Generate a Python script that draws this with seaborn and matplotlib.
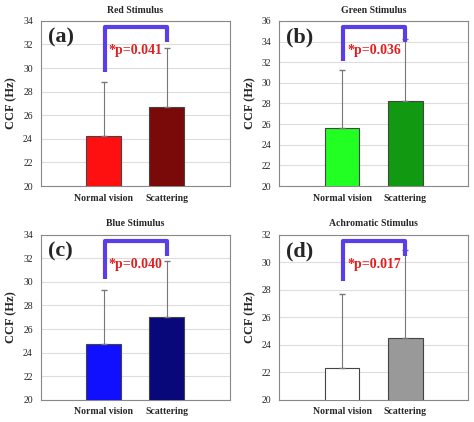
import matplotlib
matplotlib.use("Agg")
import matplotlib.pyplot as plt
import seaborn as sns
import pandas as pd

groups = ["Normal vision", "Scattering"]
titles = ["Red Stimulus", "Green Stimulus", "Blue Stimulus", "Achromatic Stimulus"]
letters = ["(a)", "(b)", "(c)", "(d)"]
means = [[24.2, 26.7], [25.6, 28.2], [24.7, 27.0], [22.3, 24.5]]
sds = [[4.6, 5.0], [5.6, 6.0], [4.6, 4.8], [5.4, 6.4]]
pvals = ["*p=0.041", "*p=0.036", "*p=0.040", "*p=0.017"]
ylims = [(20, 34), (20, 36), (20, 34), (20, 32)]
colors = [["#ff1010", "#7a0a0a"], ["#22ff22", "#119911"],
          ["#1010ff", "#08087a"], ["#ffffff", "#999999"]]

sns.set_style("white")
plt.rcParams["font.family"] = ["Liberation Serif", "DejaVu Serif"]

fig, axes = plt.subplots(2, 2, figsize=(4.74, 4.22), dpi=100)
for i, ax in enumerate(axes.flat):
    df = pd.DataFrame({"group": groups, "ccf": means[i]})
    sns.barplot(data=df, x="group", y="ccf", hue="group", palette=colors[i],
                width=0.55, saturation=1, edgecolor="#444444", linewidth=0.8,
                ax=ax, legend=False, zorder=3)
    ax.errorbar([0, 1], means[i], yerr=[[0, 0], sds[i]], fmt="none",
                ecolor="#777777", elinewidth=0.8, capsize=2, zorder=4)
    lo, hi = ylims[i]
    span = hi - lo
    ax.set_ylim(lo, hi)
    ax.set_xlim(-1, 2)
    ax.set_yticks(range(lo, hi + 1, 2))
    ax.yaxis.grid(True, color="#dddddd", lw=0.8, zorder=0)
    ax.tick_params(labelsize=7, length=2)
    for lab in ax.get_xticklabels():
        lab.set_fontweight("bold")
    ax.set_xlabel("")
    ax.set_ylabel("CCF (Hz)", fontsize=9, fontweight="bold")
    ax.set_title(titles[i], fontsize=7, fontweight="bold")
    for s in ax.spines.values():
        s.set_color("#888888")
    # significance bracket
    top = hi - 0.04 * span
    left_low = means[i][0] + sds[i][0] + 0.9
    right_low = top - 0.09 * span
    ax.plot([0.02, 0.02, 1.0, 1.0], [left_low, top, top, right_low],
            color="#5b3ee8", lw=3, solid_capstyle="butt", zorder=5)
    ax.text(0.08, top - 0.14 * span, pvals[i], color="#e02020", fontsize=10,
            fontweight="bold", va="center", ha="left", zorder=6)
    ax.text(0.04, 0.96, letters[i], transform=ax.transAxes, fontsize=16,
            fontweight="bold", va="top", ha="left")

fig.tight_layout(pad=0.4, h_pad=1.2, w_pad=1.0)
fig.savefig("out.png", dpi=100)
